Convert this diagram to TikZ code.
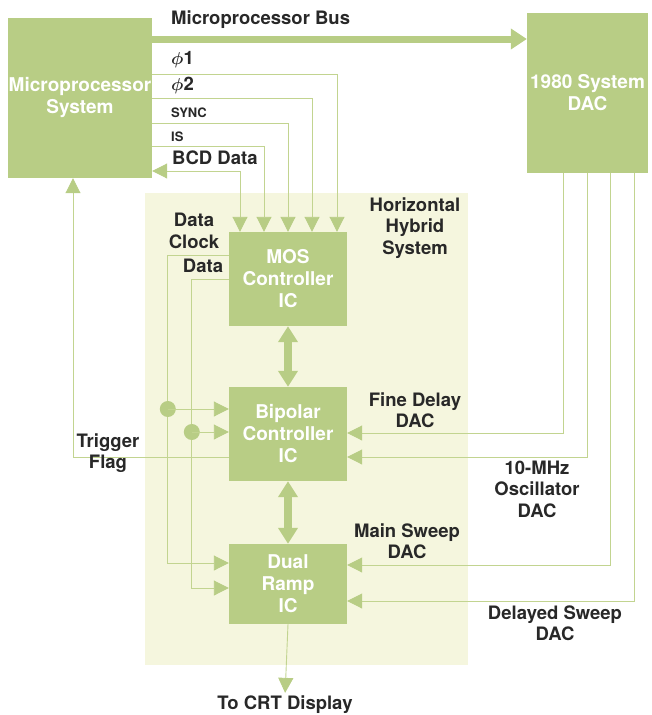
\documentclass[tikz,border=0pt]{standalone}
\usepackage{fontspec}
\setmainfont{TeX Gyre Heros}
\usepackage{amsmath}
\usetikzlibrary{arrows.meta, calc}

\definecolor{boxgreen}{RGB}{184,205,133}
\definecolor{wiregreen}{RGB}{194,212,144}
\definecolor{hybridbg}{RGB}{245,246,222}
\definecolor{labelgray}{RGB}{40,40,40}

\tikzset{
  blk/.style={fill=boxgreen, text=white, font=\fontsize{19}{22}\selectfont\bfseries, align=center, inner sep=0pt},
  lbl/.style={text=labelgray, font=\fontsize{18.5}{21.5}\selectfont\bfseries, align=center, inner sep=0pt},
  smlbl/.style={text=labelgray, font=\fontsize{13}{15}\selectfont\bfseries, inner sep=0pt, anchor=west},
  wire/.style={draw=wiregreen, line width=0.9pt},
  tip/.style={-{Triangle[width=15pt,length=15pt,color=boxgreen]}},
  twotip/.style={{Triangle[width=15pt,length=15pt,color=boxgreen]}-{Triangle[width=15pt,length=15pt,color=boxgreen]}},
  dblarrow/.style={draw=boxgreen, line width=8pt, {Triangle[width=19pt,length=16pt]}-{Triangle[width=19pt,length=16pt]}},
  bus/.style={draw=boxgreen, line width=7pt, -{Triangle[width=20pt,length=16pt]}}
}

\begin{document}
\begin{tikzpicture}[x=1pt, y=-1pt]

\useasboundingbox (0,0) rectangle (652,715);

% Hybrid area
\fill[hybridbg] (145,193) rectangle (468,665);

% Blocks
\node[blk, minimum width=144pt, minimum height=160pt] (mps) at (80,98) {Microprocessor\\System};
\node[blk, minimum width=121pt, minimum height=160pt] (dac) at (587.5,93) {1980 System\\DAC};
\node[blk, minimum width=118pt, minimum height=94pt] (mos) at (288,279) {MOS\\Controller\\IC};
\node[blk, minimum width=118pt, minimum height=94pt] (bip) at (288,434) {Bipolar\\Controller\\IC};
\node[blk, minimum width=118pt, minimum height=80pt] (dual) at (288,584) {Dual\\Ramp\\IC};

% Microprocessor bus
\draw[bus] ([yshift=59pt]mps.east) -- ([yshift=54pt]dac.west);
\node[lbl, anchor=west] (buslbl) at (171,20) {Microprocessor Bus};

% Clock and control lines into the MOS controller
\foreach \dy/\dx in {24/49, 0/24, -25/0, -48/-24}
  \draw[wire, tip] ([yshift=\dy pt]mps.east) -| ([xshift=\dx pt]mos.north);
\draw[wire, twotip] ([yshift=-73pt]mps.east) -| ([xshift=-48pt]mos.north);

\node[lbl, anchor=west] (phione) at (171,60) {{\boldmath$\phi$}1};
\node[lbl, anchor=west] (phitwo) at (171,85) {{\boldmath$\phi$}2};
\node[smlbl] (sync) at (171,113) {SYNC};
\node[smlbl] (is) at (171,137) {IS};
\node[lbl, anchor=west] (bcd) at (172,158) {BCD Data};

% Data clock and data lines
\draw[wire, tip] ([yshift=24pt]mos.west) -- ++(-61,0) coordinate (clkturn) |- ([yshift=21pt]dual.west);
\draw[wire, tip] (mos.west) -- ++(-37,0) coordinate (datturn) |- ([yshift=-4pt]dual.west);
\coordinate (clkdot) at (clkturn |- 0,409);
\coordinate (datdot) at (datturn |- 0,432);
\fill[boxgreen] (clkdot) circle (8pt);
\fill[boxgreen] (datdot) circle (8pt);
\draw[wire, tip] (clkdot) -- ([yshift=25pt]bip.west);
\draw[wire, tip] (datdot) -- ([yshift=2pt]bip.west);

\node[lbl] (datclk) at (194,231) {Data\\Clock};
\node[lbl] (dat) at (203,266) {Data};

% Trigger flag
\draw[wire, tip] ([yshift=-23pt]bip.west) -| ([xshift=-7pt]mps.south);
\node[lbl] (trig) at (108,453) {Trigger\\Flag};

% Links between the ICs
\draw[dblarrow] (mos.south) -- (bip.north);
\draw[dblarrow] (bip.south) -- (dual.north);

% DAC outputs
\draw[wire, tip] ([xshift=-24.5pt]dac.south) |- ([yshift=1pt]bip.east);
\draw[wire, tip] (dac.south) |- ([yshift=-23pt]bip.east);
\draw[wire, tip] ([xshift=22.5pt]dac.south) |- ([yshift=19pt]dual.east);
\draw[wire, tip] ([xshift=46.5pt]dac.south) |- ([yshift=-17pt]dual.east);

\node[lbl] (fine) at (415,410) {Fine Delay\\DAC};
\node[lbl] (osc) at (537,489) {10-MHz\\Oscillator\\DAC};
\node[lbl] (mainsw) at (407,541) {Main Sweep\\DAC};
\node[lbl] (delsw) at (555,623) {Delayed Sweep\\DAC};

% Hybrid label
\node[lbl] (hyb) at (415,228) {Horizontal\\Hybrid\\System};

% Output
\node[lbl] (crt) at (285,705) {To CRT Display};
\draw[wire, tip, shorten >=3pt] (dual.south) -- (crt.north);

\end{tikzpicture}
\end{document}
